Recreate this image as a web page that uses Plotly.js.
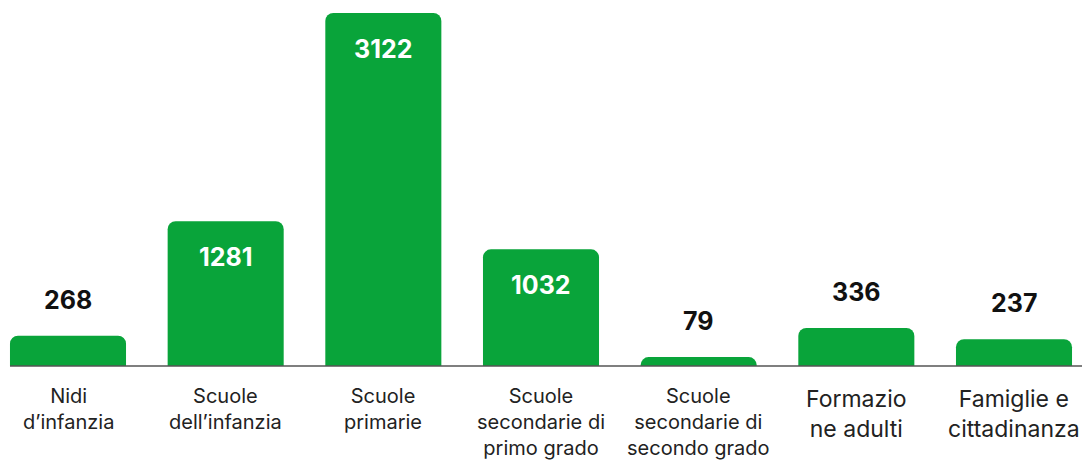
<!DOCTYPE html>
<html>
<head>
<meta charset="utf-8">
<script src="https://cdn.plot.ly/plotly-3.0.1.min.js"></script>
<style>
  html, body { margin: 0; padding: 0; background: #fff; }
  #chart { width: 1082px; height: 462px; }
</style>
</head>
<body>
<div id="chart"></div>
<script>
// categories and counts
const categories = [
    'Nidi<br>d\u2019infanzia',
    'Scuole<br>dell\u2019infanzia',
    'Scuole<br>primarie',
    'Scuole<br>secondarie di<br>primo grado',
    'Scuole<br>secondarie di<br>secondo grado',
    'Formazio<br>ne adulti',
    'Famiglie e<br>cittadinanza'
];
const values = [268, 1281, 3122, 1032, 79, 336, 237];
// which value labels sit inside the bar (white) rather than above it
const labelInside = [false, true, true, true, false, false, false];
// the last two category labels are set in a bigger type in the original
const bigLabel = [false, false, false, false, false, true, true];

const green = '#09a43a';
const idx = categories.map((_, i) => i);

const data = [{
    x: idx,
    y: values,
    type: 'bar',
    marker: { color: green, cornerradius: 8 },
    hoverinfo: 'skip'
}];

const valueNotes = values.map((v, i) => ({
    x: i,
    y: v,
    xref: 'x',
    yref: 'y',
    text: '<b>' + v + '</b>',
    showarrow: false,
    yanchor: 'middle',
    yshift: labelInside[i] ? -36 : 36,
    font: { family: 'Inter, sans-serif', size: 25, color: labelInside[i] ? '#ffffff' : '#111111' }
}));

const categoryNotes = categories.map((c, i) => ({
    x: i,
    y: 0,
    xref: 'x',
    yref: 'paper',
    text: c,
    showarrow: false,
    yanchor: 'top',
    yshift: bigLabel[i] ? -17 : -16,
    font: { family: 'Inter, sans-serif', size: bigLabel[i] ? 23 : 20, color: '#222222' }
}));

const layout = {
    width: 1082,
    height: 462,
    margin: { l: 0, r: 0, t: 0, b: 96 },
    paper_bgcolor: '#ffffff',
    plot_bgcolor: '#ffffff',
    showlegend: false,
    bargap: 0.264,
    xaxis: {
        range: [-0.4313, 6.4313],
        showticklabels: false,
        showgrid: false,
        zeroline: false,
        showline: false,
        fixedrange: true
    },
    yaxis: {
        range: [0, 3237],
        visible: false,
        fixedrange: true
    },
    shapes: [{
        type: 'line',
        xref: 'paper',
        yref: 'paper',
        x0: 10 / 1082,
        x1: 1,
        y0: 0,
        y1: 0,
        line: { color: '#555555', width: 1.5 }
    }],
    annotations: valueNotes.concat(categoryNotes)
};

Plotly.newPlot('chart', data, layout, { displayModeBar: false, staticPlot: true });
</script>
</body>
</html>
